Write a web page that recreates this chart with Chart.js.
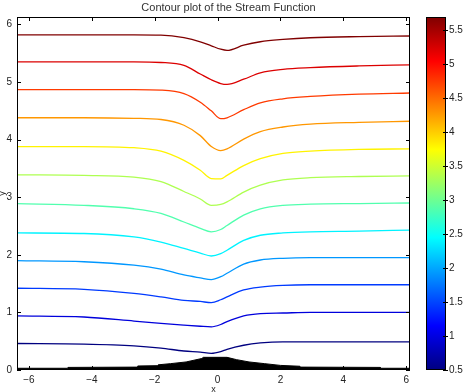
<!DOCTYPE html>
<html><head><meta charset="utf-8">
<script src="https://cdn.jsdelivr.net/npm/chart.js@4.4.1/dist/chart.umd.min.js"></script>
<style>html,body{margin:0;padding:0;background:#fff;}#wrap{position:relative;width:469px;height:392px;}</style>
</head><body><div id="wrap"><canvas id="c" width="469" height="392"></canvas></div>
<script>
const chartTitle = 'Contour plot of the Stream Function';
const xTicks = [-6, -4, -2, 0, 2, 4, 6];
const yTicks = [0, 1, 2, 3, 4, 5, 6];
const cbTicks = [0.5, 1, 1.5, 2, 2.5, 3, 3.5, 4, 4.5, 5, 5.5];
const xRange = [-6.38, 6.12];
const yRange = [0, 6.13];
const cbRange = [0.5, 5.69];

// x positions where each contour was read
const xs = [-6.38, -4.25, -2.66, -1.8, -1.07, -0.55, -0.2, 0.1, 0.3, 0.83, 1.36, 2.08, 2.95, 4.5, 6.12];
// contour lines, top to bottom
const c01 = [5.82, 5.82, 5.82, 5.815, 5.77, 5.70, 5.63, 5.57, 5.55, 5.64, 5.70, 5.74, 5.77, 5.79, 5.80];
const c02 = [5.35, 5.35, 5.35, 5.34, 5.29, 5.14, 5.04, 4.975, 4.96, 5.05, 5.16, 5.22, 5.25, 5.28, 5.30];
const c03 = [4.87, 4.87, 4.87, 4.86, 4.80, 4.65, 4.50, 4.365, 4.38, 4.52, 4.64, 4.71, 4.75, 4.79, 4.81];
const c04 = [4.38, 4.38, 4.37, 4.35, 4.25, 4.07, 3.88, 3.81, 3.84, 4.01, 4.14, 4.22, 4.27, 4.30, 4.32];
const c05 = [3.88, 3.88, 3.86, 3.80, 3.64, 3.47, 3.325, 3.32, 3.38, 3.55, 3.67, 3.76, 3.80, 3.83, 3.84];
const c06 = [3.39, 3.38, 3.35, 3.27, 3.10, 2.97, 2.86, 2.875, 2.92, 3.09, 3.21, 3.30, 3.34, 3.36, 3.37];
const c07 = [2.89, 2.86, 2.80, 2.72, 2.57, 2.46, 2.40, 2.44, 2.51, 2.69, 2.80, 2.86, 2.88, 2.89, 2.90];
const c08 = [2.38, 2.37, 2.31, 2.22, 2.11, 2.03, 1.98, 2.02, 2.08, 2.25, 2.34, 2.38, 2.40, 2.41, 2.43];
const c09 = [1.90, 1.88, 1.82, 1.75, 1.65, 1.60, 1.57, 1.62, 1.68, 1.84, 1.91, 1.94, 1.95, 1.95, 1.95];
const c10 = [1.42, 1.40, 1.33, 1.27, 1.21, 1.19, 1.17, 1.22, 1.27, 1.39, 1.44, 1.47, 1.48, 1.48, 1.48];
const c11 = [0.94, 0.92, 0.85, 0.81, 0.78, 0.76, 0.75, 0.79, 0.84, 0.94, 0.98, 0.99, 1.00, 1.00, 1.00];
const c12 = [0.46, 0.45, 0.42, 0.38, 0.33, 0.31, 0.29, 0.32, 0.36, 0.43, 0.47, 0.49, 0.49, 0.49, 0.49];
const contours = [c01, c02, c03, c04, c05, c06, c07, c08, c09, c10, c11, c12];

// black bump (obstacle) at the bottom
const bumpX = [-6.38, -4.77, -4.76, -2.55, -2.54, -1.9, -1.89, -1.5, -1.0, -0.5, -0.45, 0.3, 0.6, 1.0, 1.5, 2.0, 2.62, 2.63, 5.17, 5.18, 6.12];
const bumpY = [0.03, 0.03, 0.045, 0.05, 0.07, 0.075, 0.09, 0.11, 0.14, 0.2, 0.22, 0.22, 0.18, 0.14, 0.11, 0.08, 0.065, 0.05, 0.045, 0.03, 0.03];

function jet(t) {
  const c = v => Math.round(255 * Math.max(0, Math.min(1, v)));
  return 'rgb(' + c(1.5 - Math.abs(4 * t - 3)) + ',' + c(1.5 - Math.abs(4 * t - 2)) + ',' + c(1.5 - Math.abs(4 * t - 1)) + ')';
}
const minus = v => String(v).replace('-', '\u2212');
const noPad = s => { s.paddingTop = 0; s.paddingBottom = 0; s.paddingLeft = 0; s.paddingRight = 0; };

const datasets = contours.map((ys, i) => ({
  type: 'line',
  data: xs.map((x, j) => ({x: x, y: ys[j]})),
  borderColor: jet(1 - i / (contours.length - 1)),
  borderWidth: 1.3,
  pointRadius: 0,
  cubicInterpolationMode: 'monotone',
  fill: false,
  yAxisID: 'y'
}));
datasets.push({
  type: 'line',
  data: bumpX.map((x, j) => ({x: x, y: bumpY[j]})),
  borderColor: '#000',
  backgroundColor: '#000',
  borderWidth: 1,
  pointRadius: 0,
  tension: 0,
  fill: 'origin',
  yAxisID: 'y'
});

const decor = {
  id: 'decor',
  afterDatasetsDraw(chart) {
    const ctx = chart.ctx, a = chart.chartArea;
    const sx = chart.scales.x, sy = chart.scales.y, sc = chart.scales.cb;
    ctx.save();
    // colorbar
    const cx0 = 426, cx1 = 446;
    const ct = sc.getPixelForValue(cbRange[1]), cbt = sc.getPixelForValue(cbRange[0]);
    const g = ctx.createLinearGradient(0, cbt, 0, ct);
    for (let k = 0; k <= 64; k++) g.addColorStop(k / 64, jet(k / 64));
    ctx.fillStyle = g;
    ctx.fillRect(cx0, ct, cx1 - cx0, cbt - ct);
    ctx.strokeStyle = '#000';
    ctx.lineWidth = 1;
    ctx.strokeRect(cx0 + 0.5, ct + 0.5, cx1 - cx0 - 1, cbt - ct - 1);
    ctx.beginPath();
    cbTicks.forEach(v => {
      const p = Math.round(sc.getPixelForValue(v)) + 0.5;
      ctx.moveTo(cx1 - 3, p); ctx.lineTo(cx1 + 2, p);
    });
    ctx.stroke();
    // axes box
    ctx.strokeRect(Math.round(a.left) + 0.5, Math.round(a.top) + 0.5, Math.round(a.right - a.left) - 1, Math.round(a.bottom - a.top) - 1);
    ctx.beginPath();
    xTicks.forEach(v => {
      const p = Math.round(sx.getPixelForValue(v)) + 0.5;
      ctx.moveTo(p, a.bottom); ctx.lineTo(p, a.bottom - 4);
      ctx.moveTo(p, a.top); ctx.lineTo(p, a.top + 4);
    });
    yTicks.forEach(v => {
      const p = Math.round(sy.getPixelForValue(v)) + 0.5;
      ctx.moveTo(a.left, p); ctx.lineTo(a.left + 4, p);
      ctx.moveTo(a.right, p); ctx.lineTo(a.right - 4, p);
    });
    ctx.stroke();
    ctx.restore();
  }
};

Chart.defaults.font.family = "'Liberation Sans', Arial, sans-serif";
Chart.defaults.color = '#222';

new Chart(document.getElementById('c'), {
  data: {datasets: datasets},
  options: {
    responsive: false,
    animation: false,
    devicePixelRatio: 1,
    layout: {padding: {left: -12, right: 0, top: 0, bottom: 0}},
    plugins: {
      legend: {display: false},
      tooltip: {enabled: false},
      title: {display: true, text: chartTitle, color: '#333', font: {size: 11, weight: 'normal'}, padding: {top: 1, bottom: 2.8}}
    },
    scales: {
      x: {
        type: 'linear', position: 'bottom', min: xRange[0], max: xRange[1],
        afterBuildTicks: s => { s.ticks = xTicks.map(v => ({value: v})); },
        afterFit: s => { s.height = 22; noPad(s); },
        grid: {display: false, drawTicks: false}, border: {display: false},
        ticks: {padding: 4, font: {size: 10}, callback: v => minus(v), maxRotation: 0, autoSkip: false},
        title: {display: true, text: 'x', font: {size: 9}, padding: {top: 0, bottom: -3}}
      },
      y: {
        type: 'linear', position: 'left', min: yRange[0], max: yRange[1],
        afterBuildTicks: s => { s.ticks = yTicks.map(v => ({value: v})); },
        afterFit: s => { s.width = 29; noPad(s); },
        grid: {display: false, drawTicks: false}, border: {display: false},
        ticks: {padding: 5, font: {size: 10}, autoSkip: false},
        title: {display: true, text: 'y', font: {size: 9}, padding: {top: 9, bottom: 0}}
      },
      cb: {
        type: 'linear', position: 'right', min: cbRange[0], max: cbRange[1],
        afterBuildTicks: s => { s.ticks = cbTicks.map(v => ({value: v})); },
        afterFit: s => { s.width = 59; noPad(s); },
        grid: {display: false, drawTicks: false}, border: {display: false},
        ticks: {padding: 39, font: {size: 10}, autoSkip: false, callback: v => String(v)}
      }
    }
  },
  plugins: [decor]
});
</script></body></html>
